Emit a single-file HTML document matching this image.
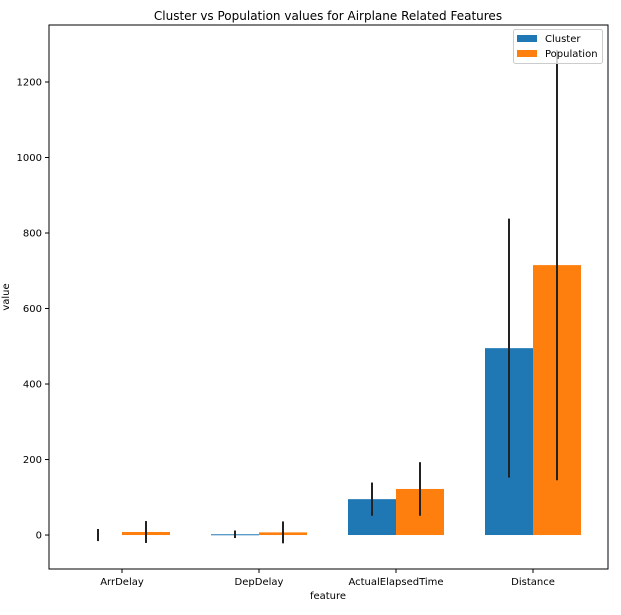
<!DOCTYPE html>
<html><head><meta charset="utf-8"><style>body{margin:0;background:#fff}svg{font-family:"DejaVu Sans","Liberation Sans",sans-serif}</style></head>
<body>
<svg id="chart" width="621" height="610" xmlns="http://www.w3.org/2000/svg">
<text x="328" y="20" font-size="12" text-anchor="middle">Cluster vs Population values for Airplane Related Features</text>
<g id="plot"></g>
<text x="328" y="599" font-size="10" text-anchor="middle">feature</text>
<text transform="translate(9,297) rotate(-90)" font-size="10" text-anchor="middle">value</text>
</svg>
<script>
const categories=["ArrDelay","DepDelay","ActualElapsedTime","Distance"];
const clusterValues=[0,2,95,495];
const clusterErr=[16,10,44,343];
const popValues=[8,7,122,715];
const popErr=[29,29,71,570];
const yTicks=[0,200,400,600,800,1000,1200];
const L=49,R=608,T=25,B=569,ymin=-90,ymax=1351;
const ns="http://www.w3.org/2000/svg";
const g=document.getElementById('plot');
function y(v){return B-(v-ymin)/(ymax-ymin)*(B-T);}
function x(i){return 122+i*137;}
const bw=48;
function h(v){const d=Math.abs(y(0)-y(v));return v===0?0:Math.max(d,1);}
function mk(t,a,p){const e=document.createElementNS(ns,t);for(const k in a)e.setAttribute(k,a[k]);(p||g).appendChild(e);return e;}
categories.forEach((c,i)=>{
 const r1=mk('rect',{x:x(i)-bw,y:Math.min(y(clusterValues[i]),y(0)),width:bw,height:h(clusterValues[i]),fill:'#1f77b4'});
 
 
 const r2=mk('rect',{x:x(i),y:Math.min(y(popValues[i]),y(0)),width:bw,height:h(popValues[i]),fill:'#ff7f0e'});
 
 
 const e1=mk('line',{x1:x(i)-bw/2,x2:x(i)-bw/2,y1:y(clusterValues[i]-clusterErr[i]),y2:y(clusterValues[i]+clusterErr[i]),stroke:'#222','stroke-width':2});
 
 
 const e2=mk('line',{x1:x(i)+bw/2,x2:x(i)+bw/2,y1:y(popValues[i]-popErr[i]),y2:Math.max(y(popValues[i]+popErr[i]),T),stroke:'#222','stroke-width':2});
 
 
 mk('line',{x1:x(i),x2:x(i),y1:B,y2:B+4,stroke:'#000'});
 const t=mk('text',{x:x(i),y:B+16,'font-size':10,'text-anchor':'middle'});t.textContent=c;
 
 
});
yTicks.forEach(v=>{
 mk('line',{x1:L-4,x2:L,y1:y(v),y2:y(v),stroke:'#000'});
 const t=mk('text',{x:L-7,y:y(v)+3.5,'font-size':10,'text-anchor':'end'});t.textContent=v;
 
 
});
const fr=mk('rect',{x:L,y:T,width:R-L,height:B-T,fill:'none',stroke:'#000','stroke-width':1});


const lg=mk('g',{});


mk('rect',{x:513.5,y:29.5,width:89,height:34,rx:2,fill:'rgba(255,255,255,0.8)',stroke:'#ccc'},lg);
mk('rect',{x:517,y:35,width:20,height:7,fill:'#1f77b4'},lg);
mk('rect',{x:517,y:50,width:20,height:7,fill:'#ff7f0e'},lg);
const t1=mk('text',{x:545,y:42,'font-size':10},lg);t1.textContent='Cluster';


const t2=mk('text',{x:545,y:57,'font-size':10},lg);t2.textContent='Population';


</script>
</body></html>
